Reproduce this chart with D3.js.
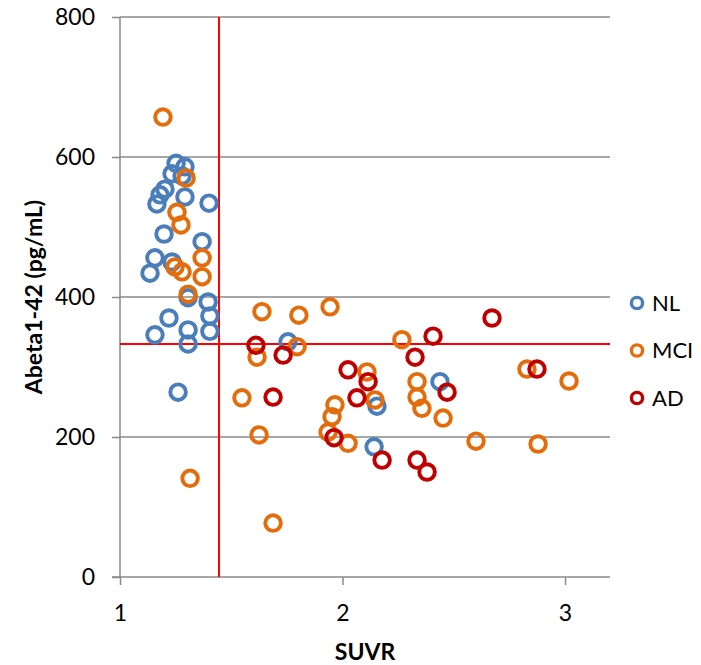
<!DOCTYPE html>
<html><head><meta charset="utf-8">
<script src="https://cdn.jsdelivr.net/npm/d3@7"></script>
<style>body{margin:0;background:#fff}svg{display:block}text{font-family:Lato,"Liberation Sans",sans-serif}</style>
</head><body><svg id="c" width="701" height="665"></svg>
<script>
const seriesNames = ["NL","MCI","AD"];
const seriesColors = ["#4A7EBB","#E46C0A","#C00000"];
const nlSUVR = [1.252,1.292,1.234,1.279,1.202,1.180,1.166,1.292,1.400,1.198,1.369,1.157,1.135,1.234,1.306,1.396,1.404,1.220,1.306,1.404,1.157,1.306,1.261,1.755,2.155,2.142,2.438];
const nlAbeta = [591,586,576,573,554,546,533,543,534,490,479,456,434,450,399,393,373,370,353,351,346,333,264,336,244,186,279];
const mciSUVR = [1.193,1.297,1.256,1.274,1.247,1.279,1.369,1.369,1.306,1.315,1.638,1.804,1.944,1.796,1.616,1.548,1.625,1.688,2.110,2.146,1.966,1.953,1.935,2.025,2.267,2.829,3.018,2.335,2.335,2.357,2.452,2.600,2.879];
const mciAbeta = [657,570,521,503,443,436,456,429,404,141,379,374,386,329,314,256,203,77,293,253,246,229,207,191,339,297,280,279,257,241,227,194,190];
const adSUVR = [1.611,1.733,1.688,2.025,2.115,2.065,1.962,2.178,2.672,2.407,2.326,2.874,2.470,2.335,2.380];
const adAbeta = [331,317,257,296,279,256,199,167,370,344,314,297,264,167,150];
const xTicks = [1,2,3];
const yTicks = [0,200,400,600,800];
const suvrCutoff = 1.445;
const abetaCutoff = 333;

const svg = d3.select("#c");
const L=120,R=610,T=17,B=577;
const x = d3.scaleLinear().domain([1, 1+(R-L)/222.5]).range([L,R]);
const y = d3.scaleLinear().domain([0,800]).range([B,T]);
const grey = "#8A8A8A";

// gridlines
svg.append("g").selectAll("line").data(yTicks.filter(d=>d>0)).join("line")
  .attr("x1",L).attr("x2",R).attr("y1",d=>y(d)).attr("y2",d=>y(d))
  .attr("stroke",grey).attr("stroke-width",1.5);

// y axis
const ya = svg.append("g").attr("transform",`translate(${L},0)`)
  .call(d3.axisLeft(y).tickValues(yTicks).tickSize(8).tickPadding(17).tickFormat(d3.format("d")));
ya.select(".domain").attr("stroke",grey).attr("stroke-width",1.5).attr("d",`M0,${T}V${B}`);
ya.selectAll(".tick line").attr("stroke",grey).attr("stroke-width",1.5);
ya.selectAll(".tick text").attr("font-size",23).attr("fill","#000").attr("font-family","Lato");

// x axis
const xa = svg.append("g").attr("transform",`translate(0,${B})`)
  .call(d3.axisBottom(x).tickValues(xTicks).tickSize(8).tickPadding(20).tickFormat(d3.format("d")));
xa.select(".domain").attr("stroke",grey).attr("stroke-width",1.5).attr("d",`M${L-8},0H${R}`);
xa.selectAll(".tick line").attr("stroke",grey).attr("stroke-width",1.5);
xa.selectAll(".tick text").attr("font-size",23).attr("fill","#000").attr("font-family","Lato");

// cutoff lines
svg.append("line").attr("x1",x(suvrCutoff)).attr("x2",x(suvrCutoff)).attr("y1",T).attr("y2",B)
  .attr("stroke","#FF0000").attr("stroke-width",2);
svg.append("line").attr("x1",L).attr("x2",R).attr("y1",y(abetaCutoff)).attr("y2",y(abetaCutoff))
  .attr("stroke","#FF0000").attr("stroke-width",2);

// points
const series = [
  {name:seriesNames[0], color:seriesColors[0], xs:nlSUVR, ys:nlAbeta},
  {name:seriesNames[1], color:seriesColors[1], xs:mciSUVR, ys:mciAbeta},
  {name:seriesNames[2], color:seriesColors[2], xs:adSUVR, ys:adAbeta}
];
series.forEach(s=>{
  svg.append("g").selectAll("circle").data(s.xs.map((v,i)=>[v,s.ys[i]])).join("circle")
    .attr("cx",d=>x(d[0])).attr("cy",d=>y(d[1])).attr("r",7.8)
    .attr("fill","none").attr("stroke",s.color).attr("stroke-width",3.9);
});

// legend
const lg = svg.append("g");
series.forEach((s,i)=>{
  const cy = 303 + i*47.5;
  lg.append("circle").attr("cx",637).attr("cy",cy).attr("r",5.6)
    .attr("fill","none").attr("stroke",s.color).attr("stroke-width",3.4);
  lg.append("text").attr("x",652).attr("y",cy+7.5).attr("font-size",22).text(s.name);
});

// axis titles
svg.append("text").attr("x",(L+R)/2).attr("y",660).attr("text-anchor","middle")
  .attr("font-size",23).attr("font-weight","bold").text("SUVR");
svg.append("text").attr("transform",`translate(42,${(T+B)/2}) rotate(-90)`).attr("text-anchor","middle")
  .attr("font-size",23).attr("font-weight","bold").text("Abeta1-42 (pg/mL)");
</script></body></html>
